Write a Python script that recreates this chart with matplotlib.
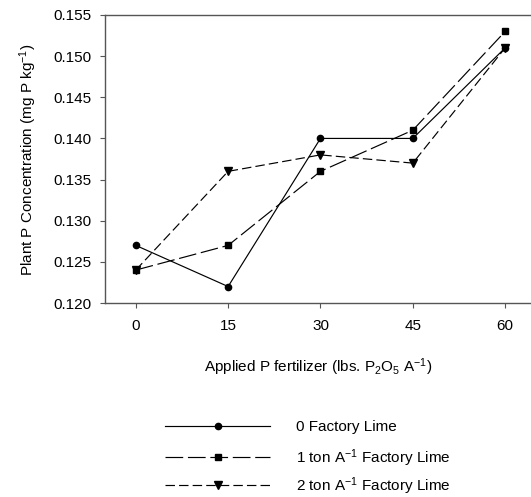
import matplotlib
matplotlib.use("Agg")
import matplotlib.pyplot as plt

plt.rcParams['font.family'] = ['Liberation Sans', 'DejaVu Sans']
plt.rcParams['mathtext.default'] = 'regular'

x_rates = [0, 15, 30, 45, 60]
lime_0 = [0.127, 0.122, 0.140, 0.140, 0.151]
lime_1 = [0.124, 0.127, 0.136, 0.141, 0.153]
lime_2 = [0.124, 0.136, 0.138, 0.137, 0.151]
y_ticks = [0.120, 0.125, 0.130, 0.135, 0.140, 0.145, 0.150, 0.155]
labels = ['0 Factory Lime', r'1 ton A$^{-1}$ Factory Lime', r'2 ton A$^{-1}$ Factory Lime']

fig = plt.figure(figsize=(5.31, 4.97), dpi=100)
W, H = 531, 497
ax = fig.add_axes([105 / W, 1 - 303 / H, (531 - 105) / W, (303 - 15) / H])

l0, = ax.plot(x_rates, lime_0, color='black', lw=0.85, marker='o', ms=4.5)
l1, = ax.plot(x_rates, lime_1, color='black', lw=0.85, marker='s', ms=5, dashes=(15, 4))
l2, = ax.plot(x_rates, lime_2, color='black', lw=0.85, marker='v', ms=5.5, dashes=(8, 3.5))

ax.set_xlim(-5.0, 64.2)
ax.set_ylim(0.120, 0.155)
ax.set_xticks(x_rates)
ax.set_yticks(y_ticks)
ax.set_yticklabels([f'{v:.3f}' for v in y_ticks])
ax.tick_params(direction='out', length=3.5, width=0.8, labelsize=11, colors='black', color='#555555')
ax.tick_params(axis='x', pad=8)
ax.tick_params(axis='y', pad=6)
for s in ['left', 'bottom', 'top']:
    ax.spines[s].set_linewidth(1.0)
    ax.spines[s].set_color('#555555')
ax.spines['right'].set_visible(False)

fig.text(318 / W, 1 - 367 / H, r'Applied P fertilizer (lbs. P$_2$O$_5$ A$^{-1}$)',
         fontsize=11, ha='center', va='center')
fig.text(28 / W, 1 - 160 / H, r'Plant P Concentration (mg P kg$^{-1}$)',
         fontsize=11, ha='center', va='center', rotation=90)

row_y = [427, 458, 486]
for handle, lab, yy in zip([l0, l1, l2], labels, row_y):
    fig.legend(handles=[handle], labels=[lab], loc='center left',
               bbox_to_anchor=(165 / W, 1 - yy / H), frameon=False,
               fontsize=11, handlelength=6.9, handletextpad=1.7,
               borderpad=0, borderaxespad=0)

fig.savefig('out.png', dpi=100)
